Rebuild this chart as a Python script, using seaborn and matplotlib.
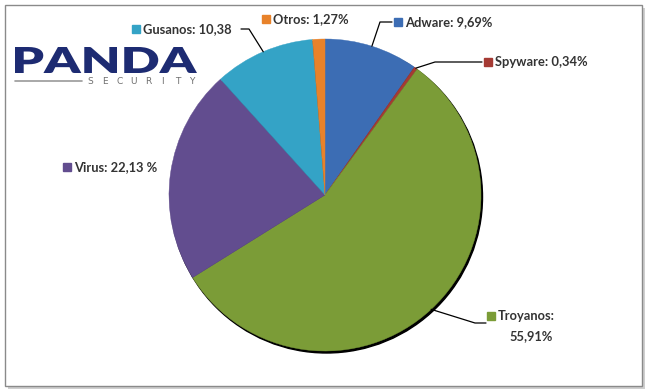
import numpy as np
import matplotlib
matplotlib.use("Agg")
import matplotlib.pyplot as plt
from matplotlib.patches import Rectangle, Circle, PathPatch
from matplotlib.textpath import TextPath
from matplotlib.font_manager import FontProperties
from matplotlib.transforms import Affine2D
import seaborn as sns

# Data (share of detected malware)
categories = ["Adware", "Spyware", "Troyanos", "Virus", "Gusanos", "Otros"]
values = [9.69, 0.34, 55.91, 22.13, 10.38, 1.27]
labels = ["Adware: 9,69%", "Spyware: 0,34%", "Troyanos:", "Virus: 22,13 %", "Gusanos: 10,38", "Otros: 1,27%"]
colors = ["#3c6db4", "#a53a33", "#7b9c37", "#624d8f", "#34a3c6", "#e8822a"]

sns.set_theme(style="white")
plt.rcParams["font.family"] = ["Lato", "DejaVu Sans"]

fig = plt.figure(figsize=(6.5, 3.92), dpi=100)
ax = fig.add_axes([0, 0, 1, 1])

# frame with light shadow
ax.add_patch(Rectangle((8, 8), 637, 381, facecolor="#cfcfcf", edgecolor="none", zorder=-3))
ax.add_patch(Rectangle((5, 5), 637, 381, facecolor="white", edgecolor="#8a8a8a", lw=1, zorder=-2))

# pie
cx, cy, r = 325, 195, 156
pal = sns.color_palette(colors)
ax.add_patch(Circle((cx + 1.5, cy + 2), r, color="black", zorder=0))
wedges, _ = ax.pie(values, colors=pal, startangle=270, counterclock=True,
                   center=(cx, cy), radius=r, frame=True,
                   wedgeprops=dict(linewidth=0))
for w, c in zip(wedges, pal):
    w.set_edgecolor(c)
    w.set_linewidth(0.3)
    w.set_zorder(1)

# label layout: marker square, leader elbow and end (None = no leader)
layout = {
    "Adware": dict(sq=(398, 22), lead=[(380, 22), (392, 22)]),
    "Spyware": dict(sq=(488, 62), lead=[(435, 62), (482, 62)]),
    "Troyanos": dict(sq=(491, 316), lead=[(475, 323), (486, 323)]),
    "Virus": dict(sq=(67, 167), lead=None),
    "Gusanos": dict(sq=(136, 29), lead=[(249, 29), (241, 29)]),
    "Otros": dict(sq=(266, 19), lead=None),
}

txt_kw = dict(fontsize=9.3, fontweight="bold", color="#333333", va="center", ha="left")
for cat, lab, col, w in zip(categories, labels, colors, wedges):
    lay = layout[cat]
    sx, sy = lay["sq"]
    ax.plot(sx, sy, marker="s", ms=5.5, color=col, mec=col, zorder=3)
    ax.text(sx + 7, sy, lab, **txt_kw)
    if lay["lead"] is not None:
        t = np.deg2rad((w.theta1 + w.theta2) / 2)
        ex, ey = cx + r * np.cos(t), cy + r * np.sin(t)
        xs = [ex] + [p[0] for p in lay["lead"]]
        ys = [ey] + [p[1] for p in lay["lead"]]
        ax.plot(xs, ys, color="black", lw=0.9, zorder=2)

ax.text(531, 336, "55,91%", fontsize=9.3, fontweight="bold", color="#333333", va="center", ha="center")

# Panda Security logo
tp = TextPath((0, 0), "PANDA", size=1, prop=FontProperties(family="Lato", weight="heavy"))
bb = tp.get_extents()
tr = Affine2D().translate(-bb.x0, -bb.y0).scale(182 / bb.width, -26 / bb.height).translate(15, 73)
ax.add_patch(PathPatch(tr.transform_path(tp), facecolor="#1d2b72", edgecolor="none", zorder=3))
ax.plot([15, 82], [81, 81], color="#9a9a9a", lw=1.2, zorder=3)
for x, ch in zip(np.linspace(90, 192, 8), "SECURITY"):
    ax.text(x, 81, ch, fontsize=6.5, color="#6f6f6f", ha="center", va="center",
            family="DejaVu Sans")

ax.set_xlim(0, 650)
ax.set_ylim(392, 0)
ax.set_aspect("equal")
ax.axis("off")

fig.savefig("out.png", dpi=100)
